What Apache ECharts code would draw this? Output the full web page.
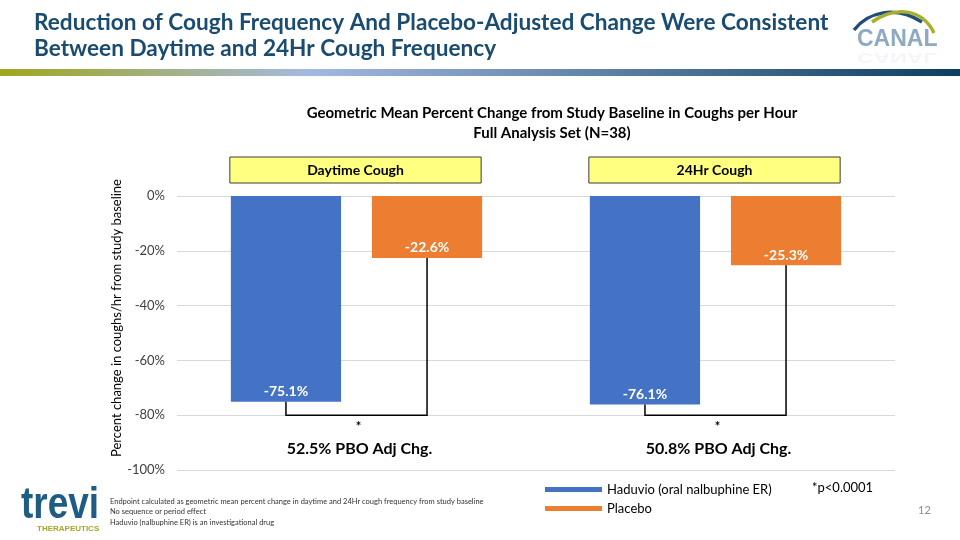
<!DOCTYPE html>
<html>
<head>
<meta charset="utf-8">
<script src="https://cdn.jsdelivr.net/npm/echarts@6/dist/echarts.min.js"></script>
<style>
html,body{margin:0;padding:0;background:#fff;}
#chart{width:960px;height:540px;}
</style>
</head>
<body>
<div id="chart"></div>
<script>
// ---- data ----
const categories = ['Daytime Cough', '24Hr Cough'];
const haduvio = [-75.1, -76.1];
const placebo = [-22.6, -25.3];
const bracketBottom = [-80, -80];
const pboLabels = ['52.5% PBO Adj Chg.', '50.8% PBO Adj Chg.'];
const starY = -84.2;
const pboY = -92.3;
const yTicks = { min: -100, max: 0, interval: 20 };
const seriesNames = ['Haduvio (oral nalbuphine ER)', 'Placebo'];
const yAxisTitle = 'Percent change in coughs/hr from study baseline';
const footnotes = [
  'Endpoint calculated as geometric mean percent change in daytime and 24Hr cough frequency from study baseline',
  'No sequence or period effect',
  'Haduvio (nalbuphine ER) is an investigational drug'
];

const FONT = 'Lato, "Open Sans", sans-serif';
const BLUE = '#4472C4', ORANGE = '#ED7D31';
const CAT_GAP = 0.30, BAR_GAP = 0.28;

function barGeom(api) {
  const band = api.size([1, 0])[0];
  const w = band * (1 - CAT_GAP) / (2 + BAR_GAP);
  return { w: w, off: (w * (1 + BAR_GAP)) / 2 };
}

const chart = echarts.init(document.getElementById('chart'), null, { renderer: 'canvas' });

const barLabel = { show: true, position: 'insideBottom', distance: 3, formatter: p => p.value.toFixed(1) + '%',
  color: '#fff', fontWeight: 'bold', fontSize: 14, fontFamily: FONT };

const option = {
  backgroundColor: '#fff',
  animation: false,
  textStyle: { fontFamily: FONT },
  title: [
    {
      text: 'Reduction of Cough Frequency And Placebo-Adjusted Change Were Consistent\nBetween Daytime and 24Hr Cough Frequency',
      left: 29, top: 5,
      textStyle: { fontFamily: FONT, fontSize: 22.6, fontWeight: 'bold', color: '#1A4B70', lineHeight: 26 }
    },
    {
      text: 'Geometric Mean Percent Change from Study Baseline in Coughs per Hour\nFull Analysis Set (N=38)',
      left: 547, top: 98, textAlign: 'center',
      textStyle: { fontFamily: FONT, fontSize: 15, fontWeight: 'bold', color: '#000', lineHeight: 20, align: 'center' }
    }
  ],
  grid: { left: 177, right: 65, top: 196, bottom: 70, containLabel: false },
  legend: {
    orient: 'vertical', left: 540, top: 478,
    itemWidth: 57, itemHeight: 5, itemGap: 6,
    icon: 'rect',
    textStyle: { fontFamily: FONT, fontSize: 13, color: '#000', padding: [0, 0, 0, 0] },
    data: seriesNames
  },
  xAxis: {
    type: 'category', data: categories,
    axisLine: { show: false }, axisTick: { show: false }, axisLabel: { show: false },
    splitLine: { show: false }
  },
  yAxis: {
    type: 'value', min: yTicks.min, max: yTicks.max, interval: yTicks.interval,
    axisLine: { show: false }, axisTick: { show: false },
    axisLabel: { formatter: '{value}%', fontFamily: FONT, fontSize: 13, color: '#404040', margin: 12 },
    splitLine: { lineStyle: { color: '#D9D9D9', width: 1 } }
  },
  series: [
    {
      name: seriesNames[0], type: 'bar', data: haduvio,
      barGap: (BAR_GAP * 100) + '%', barCategoryGap: (CAT_GAP * 100) + '%',
      itemStyle: { color: BLUE },
      label: barLabel
    },
    {
      name: seriesNames[1], type: 'bar', data: placebo,
      itemStyle: { color: ORANGE },
      label: barLabel
    },
    {
      name: 'brackets', type: 'custom', silent: true, z: 5,
      data: categories.map((c, i) => [i, haduvio[i], placebo[i], bracketBottom[i]]),
      renderItem: function (params, api) {
        const i = api.value(0);
        const g = barGeom(api);
        const cx = api.coord([i, 0])[0];
        const yB = api.coord([i, api.value(1)])[1];
        const yP = api.coord([i, api.value(2)])[1];
        const yBot = api.coord([i, api.value(3)])[1];
        return {
          type: 'polyline',
          shape: { points: [[cx - g.off, yB], [cx - g.off, yBot], [cx + g.off, yBot], [cx + g.off, yP]] },
          style: { stroke: '#000', lineWidth: 1.5, fill: null }
        };
      }
    },
    {
      name: 'annotations', type: 'custom', silent: true, z: 6,
      data: categories.map((c, i) => [i, starY, pboY]),
      renderItem: function (params, api) {
        const i = api.value(0);
        const ps = api.coord([i, api.value(1)]);
        const pp = api.coord([i, api.value(2)]);
        return {
          type: 'group',
          children: [
            { type: 'text', style: { text: '*', x: ps[0] + 2, y: ps[1], align: 'center', verticalAlign: 'middle',
                font: 'bold 13px ' + FONT, fill: '#000' } },
            { type: 'text', style: { text: pboLabels[i], x: pp[0] + 3, y: pp[1], align: 'center', verticalAlign: 'middle',
                font: 'bold 16px ' + FONT, fill: '#000' } }
          ]
        };
      }
    },
    {
      name: 'headers', type: 'custom', silent: true, z: 6, clip: false,
      data: categories.map((c, i) => [i, 0]),
      renderItem: function (params, api) {
        const i = api.value(0);
        const g = barGeom(api);
        const p = api.coord([i, 0]);
        const x0 = p[0] - g.off - g.w / 2 - 1;
        const x1 = p[0] + g.off + g.w / 2 - 1;
        return {
          type: 'group',
          children: [
            { type: 'rect', shape: { x: x0, y: p[1] - 39, width: x1 - x0, height: 26 },
              style: { fill: '#FFFF80', stroke: '#3A3A3A', lineWidth: 1 } },
            { type: 'text', style: { text: categories[i], x: (x0 + x1) / 2, y: p[1] - 26, align: 'center', verticalAlign: 'middle',
                font: 'bold 14px ' + FONT, fill: '#000' } }
          ]
        };
      }
    }
  ],
  graphic: [
    // header gradient band
    { type: 'rect', left: 0, top: 69, shape: { width: 960, height: 7 },
      style: { fill: new echarts.graphic.LinearGradient(0, 0, 1, 0, [
        { offset: 0, color: '#9FA71C' },
        { offset: 0.32, color: '#A4B9DF' },
        { offset: 1, color: '#0B3E61' }
      ]) } },
    // y axis title
    { type: 'text', x: 117, y: 318, rotation: Math.PI / 2,
      style: { text: yAxisTitle, font: '13px ' + FONT, fill: '#000', align: 'center', verticalAlign: 'middle' } },
    // CANAL logo
    { type: 'bezierCurve', shape: { x1: 854, y1: 30, x2: 922, y2: 22, cpx1: 868, cpy1: 12, cpx2: 895, cpy2: 5 },
      style: { stroke: '#1F4E79', lineWidth: 3.5, fill: null } },
    { type: 'bezierCurve', shape: { x1: 872, y1: 22, x2: 934, y2: 33, cpx1: 895, cpy1: 6, cpx2: 922, cpy2: 8 },
      style: { stroke: '#A9AE2C', lineWidth: 3.5, fill: null } },
    { type: 'text', left: 857, top: 28,
      style: { text: 'CANAL', font: 'bold 23px "Liberation Sans", Arial, sans-serif', fill: '#8FA9C2' } },
    { type: 'text', x: 857, y: 64, scaleY: -0.6,
      style: { text: 'CANAL', font: 'bold 23px "Liberation Sans", Arial, sans-serif', fill: 'rgba(143,169,194,0.1)' } },
    // trevi logo
    { type: 'text', x: 21, y: 484, scaleX: 0.84,
      style: { text: 'trevi', font: 'bold 44px "Liberation Sans", Arial, sans-serif', fill: '#1E5C83' } },
    { type: 'text', left: 37, top: 525,
      style: { text: 'THERAPEUTICS', font: 'bold 8px "Liberation Sans", Arial, sans-serif', fill: '#A7A52D' } },
    // footnotes
    { type: 'text', left: 110, top: 496,
      style: { text: footnotes.join('\n'), font: '7.5px ' + FONT, lineHeight: 10.5, fill: '#333' } },
    // p-value note
    { type: 'text', left: 812, top: 481,
      style: { text: '*p<0.0001', font: '13px ' + FONT, fill: '#000' } },
    // page number
    { type: 'text', left: 918, top: 505,
      style: { text: '12', font: '11px ' + FONT, fill: '#8C8C8C' } }
  ]
};

chart.setOption(option);
</script>
</body>
</html>
